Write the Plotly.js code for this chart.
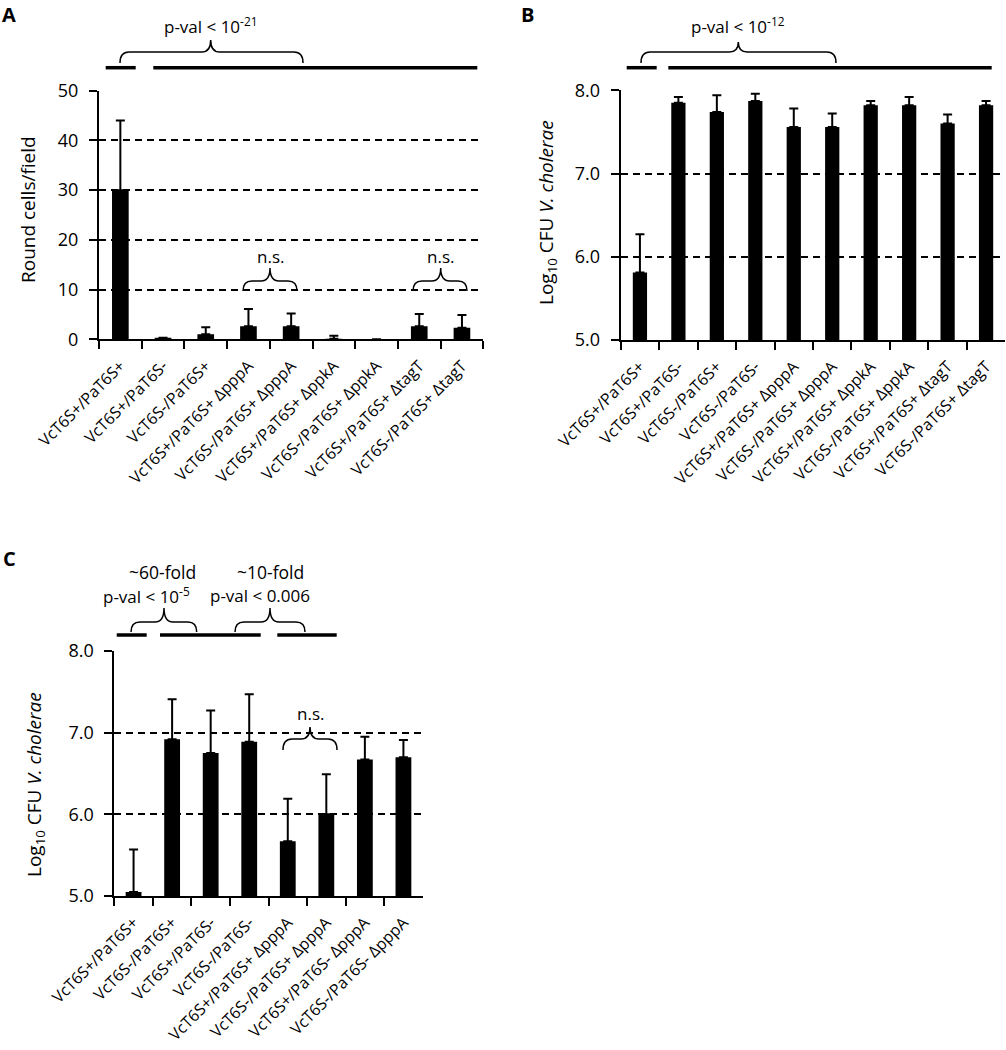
<!DOCTYPE html>
<html>
<head>
<meta charset="utf-8">
<script src="https://cdn.plot.ly/plotly-3.0.1.min.js"></script>
<style>html,body{margin:0;padding:0;background:#fff;}#chart{width:1006px;height:1050px;}</style>
</head>
<body>
<div id="chart"></div>
<script>
// ---------- Data ----------
const catsA = ["VcT6S+/PaT6S+", "VcT6S+/PaT6S-", "VcT6S-/PaT6S+", "VcT6S+/PaT6S+ ΔpppA", "VcT6S-/PaT6S+ ΔpppA",
               "VcT6S+/PaT6S+ ΔppkA", "VcT6S-/PaT6S+ ΔppkA", "VcT6S+/PaT6S+ ΔtagT", "VcT6S-/PaT6S+ ΔtagT"];
const valsA = [30.0, 0.3, 1.0, 2.6, 2.6, 0.1, 0.0, 2.6, 2.3];
const errA  = [14.0, 0.0, 1.4, 3.5, 2.6, 0.6, 0.0, 2.5, 2.6];

const catsB = ["VcT6S+/PaT6S+", "VcT6S+/PaT6S-", "VcT6S-/PaT6S+", "VcT6S-/PaT6S-", "VcT6S+/PaT6S+ ΔpppA",
               "VcT6S-/PaT6S+ ΔpppA", "VcT6S+/PaT6S+ ΔppkA", "VcT6S-/PaT6S+ ΔppkA", "VcT6S+/PaT6S+ ΔtagT", "VcT6S-/PaT6S+ ΔtagT"];
const valsB = [5.81, 7.85, 7.74, 7.87, 7.56, 7.56, 7.82, 7.82, 7.60, 7.82];
const errB  = [0.46, 0.07, 0.20, 0.09, 0.22, 0.16, 0.05, 0.10, 0.11, 0.05];

const catsC = ["VcT6S+/PaT6S+", "VcT6S-/PaT6S+", "VcT6S+/PaT6S-", "VcT6S-/PaT6S-", "VcT6S+/PaT6S+ ΔpppA",
               "VcT6S-/PaT6S+ ΔpppA", "VcT6S+/PaT6S- ΔpppA", "VcT6S-/PaT6S- ΔpppA"];
const valsC = [5.05, 6.92, 6.75, 6.89, 5.67, 6.00, 6.67, 6.70];
const errC  = [0.52, 0.49, 0.52, 0.58, 0.52, 0.49, 0.28, 0.21];

const ticksA = [0, 10, 20, 30, 40, 50];
const ticksBC = [5, 6, 7, 8];

// ---------- Helpers ----------
const W = 1006, H = 1050;
const px = x => x / W;
const py = y => 1 - y / H;
const FONT = "Open Sans, Noto Sans, sans-serif";

function barTrace(cats, vals, errs, xa, ya, w) {
  return {
    type: "bar", x: cats, y: vals, xaxis: xa, yaxis: ya, width: w,
    marker: {color: "black", line: {width: 0}},
    error_y: {type: "data", symmetric: false, array: errs, arrayminus: errs.map(() => 0),
              color: "black", thickness: 2, width: 4.5},
    hoverinfo: "x+y", showlegend: false
  };
}

function xAxis(x0, x1, anchor, n) {
  return {
    domain: [px(x0), px(x1)], anchor: anchor, type: "category", range: [-0.5, n - 0.5],
    showline: true, linecolor: "black", linewidth: 2, ticks: "outside", ticklen: 8, tickwidth: 2,
    tickcolor: "black", tickson: "boundaries", tickangle: -45, showgrid: false, zeroline: false,
    ticklabelstandoff: 9,
    tickfont: {family: FONT, size: 16, color: "black"}, automargin: false, fixedrange: true
  };
}
function yAxis(yTop, yBot, anchor, range, tv, fmt) {
  return {
    domain: [py(yBot), py(yTop)], anchor: anchor, range: range, tickvals: tv, tickformat: fmt,
    showline: true, linecolor: "black", linewidth: 2, ticks: "outside", ticklen: 8, tickwidth: 2,
    tickcolor: "black", showgrid: true, gridcolor: "black", gridwidth: 2, griddash: "7px,5px",
    ticklabelstandoff: 7,
    zeroline: false, tickfont: {family: FONT, size: 18, color: "black"}, automargin: false, fixedrange: true
  };
}

function hline(x0, x1, y) {
  return {type: "line", xref: "paper", yref: "paper", x0: px(x0), x1: px(x1), y0: py(y), y1: py(y),
          line: {color: "black", width: 3.5}};
}
function brace(x1, x2, xm, yEnd, yMid, yTop) {
  const r = 9;
  const P = (x, y) => px(x) + "," + py(y);
  const d = "M" + P(x1, yEnd) + " Q" + P(x1, yMid) + " " + P(x1 + r, yMid) +
            " L" + P(xm - r, yMid) + " Q" + P(xm, yMid) + " " + P(xm, yTop) +
            " Q" + P(xm, yMid) + " " + P(xm + r, yMid) +
            " L" + P(x2 - r, yMid) + " Q" + P(x2, yMid) + " " + P(x2, yEnd);
  return {type: "path", xref: "paper", yref: "paper", path: d, line: {color: "black", width: 1.5}};
}
function txt(x, y, s, size, extra) {
  return Object.assign({xref: "paper", yref: "paper", x: px(x), y: py(y), text: s, showarrow: false,
          xanchor: "center", yanchor: "middle", font: {family: FONT, size: size, color: "black"}}, extra || {});
}

// ---------- Traces ----------
const data = [
  barTrace(catsA, valsA, errA, "x", "y", 0.39),
  barTrace(catsB, valsB, errB, "x2", "y2", 0.37),
  barTrace(catsC, valsC, errC, "x3", "y3", 0.41)
];

// ---------- Layout ----------
const layout = {
  width: W, height: H, margin: {l: 0, r: 0, t: 0, b: 0},
  paper_bgcolor: "white", plot_bgcolor: "white", showlegend: false,
  font: {family: FONT, color: "black"},
  xaxis: xAxis(99, 483.3, "y", catsA.length),
  yaxis: yAxis(90.7, 339.3, "x", [0, 50], ticksA, ""),
  xaxis2: xAxis(620.7, 1005.3, "y2", catsB.length),
  yaxis2: yAxis(90.3, 340, "x2", [5, 8], ticksBC, ".1f"),
  xaxis3: xAxis(114.3, 422.7, "y3", catsC.length),
  yaxis3: yAxis(651, 896, "x3", [5, 8], ticksBC, ".1f"),
  shapes: [
    // A
    hline(105.7, 135.7, 67.7), hline(153.3, 477.3, 67.7),
    brace(120, 303, 210.7, 63, 52, 40),
    brace(243, 297, 270, 291, 281, 268),
    brace(413, 467, 440.7, 291, 281, 268),
    // B
    hline(626.7, 656.7, 67.7), hline(668.3, 991.7, 67.7),
    brace(641, 836, 738.3, 63, 52, 42),
    // C
    hline(116.7, 146.7, 635), hline(160, 260.7, 635), hline(277.3, 336.7, 635),
    brace(131, 196.7, 164, 632, 622, 608),
    brace(235, 305, 270, 632, 622, 608),
    brace(283, 337, 310, 750, 739, 727)
  ],
  annotations: [
    txt(9, 15, "<b>A</b>", 20), txt(527, 15, "<b>B</b>", 20), txt(9, 558, "<b>C</b>", 20),
    txt(211, 25, "p-val &lt; 10<sup>-21</sup>", 17),
    txt(270, 256, "n.s.", 17), txt(440.7, 256, "n.s.", 17),
    txt(738, 25, "p-val &lt; 10<sup>-12</sup>", 17),
    txt(162, 572, "~60-fold", 17.5), txt(146, 595, "p-val &lt; 10<sup>-5</sup>", 17),
    txt(270, 572, "~10-fold", 17.5), txt(260, 595, "p-val &lt; 0.006", 17),
    txt(310, 713, "n.s.", 17),
    txt(28, 210, "Round cells/field", 19, {textangle: -90}),
    txt(547, 213, "Log<sub>10</sub> CFU <i>V. cholerae</i>", 19, {textangle: -90}),
    txt(35, 785, "Log<sub>10</sub> CFU <i>V. cholerae</i>", 19, {textangle: -90})
  ]
};

Plotly.newPlot("chart", data, layout, {displayModeBar: false, staticPlot: true});
</script>
</body>
</html>
